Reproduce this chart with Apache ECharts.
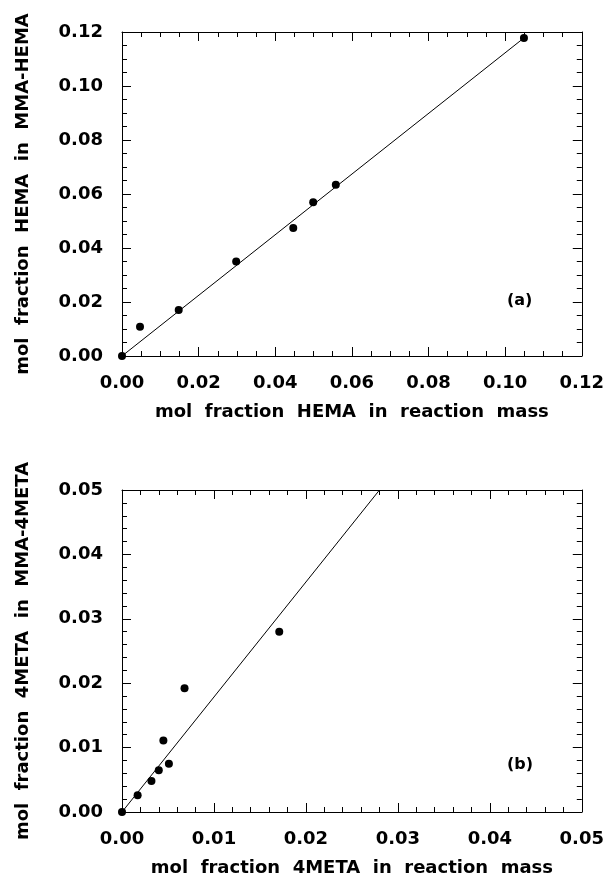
<!DOCTYPE html>
<html>
<head>
<meta charset="utf-8">
<script src="https://cdn.jsdelivr.net/npm/echarts@6/dist/echarts.min.js"></script>
<style>
  html, body { margin: 0; padding: 0; background: #fff; }
  #chart { width: 607px; height: 878px; }
</style>
</head>
<body>
<div id="chart"></div>
<script>
// panel (a): MMA-HEMA
var hemaPoints = [
    [0, 0], [0.0047, 0.0108], [0.0148, 0.0170], [0.0298, 0.0350],
    [0.0447, 0.0474], [0.0499, 0.0569], [0.0558, 0.0634], [0.1049, 0.1178]
];
var hemaFit = [[0, 0], [0.1049, 0.1178]];

// panel (b): MMA-4META
var metaPoints = [
    [0, 0], [0.0017, 0.0026], [0.0032, 0.0048], [0.0040, 0.0065],
    [0.0045, 0.0111], [0.0051, 0.0075], [0.0068, 0.0192], [0.0171, 0.0280]
];
var metaFit = [[0, 0], [0.0280, 0.0500]];

var hemaTicks = { max: 0.12, interval: 0.02, minorSplit: 4 };
var metaTicks = { max: 0.05, interval: 0.01, minorSplit: 5 };

var font = 'DejaVu Sans';

function axis(kind, grid, ticks, opts) {
    var a = {
        type: 'value',
        gridIndex: grid,
        min: 0,
        max: ticks.max,
        interval: ticks.interval,
        axisLine: { show: true, onZero: false, lineStyle: { color: '#000', width: 1 } },
        axisTick: { show: true, inside: true, length: 9, lineStyle: { color: '#000', width: 1 } },
        minorTick: { show: true, splitNumber: ticks.minorSplit, length: 5, lineStyle: { color: '#000', width: 1 } },
        splitLine: { show: false },
        axisLabel: {
            show: !opts.mirror,
            color: '#000',
            fontFamily: font,
            fontWeight: 'bold',
            fontSize: 18,
            margin: kind === 'x' ? 18 : 19,
            formatter: function (v) { return v.toFixed(2); }
        }
    };
    if (opts.position) a.position = opts.position;
    if (opts.name) {
        a.name = opts.name;
        a.nameLocation = 'middle';
        a.nameGap = kind === 'x' ? 47 : 90;
        a.nameTextStyle = { color: '#000', fontFamily: font, fontWeight: 'bold', fontSize: 18 };
    }
    return a;
}

var myChart = echarts.init(document.getElementById('chart'));
var option = {
    backgroundColor: '#fff',
    animation: false,
    grid: [
        { left: 122, top: 32, width: 461, height: 324 },
        { left: 122, top: 490, width: 461, height: 324 }
    ],
    xAxis: [
        axis('x', 0, hemaTicks, { name: 'mol  fraction  HEMA  in  reaction  mass' }),
        axis('x', 0, hemaTicks, { mirror: true, position: 'top' }),
        axis('x', 1, metaTicks, { name: 'mol  fraction  4META  in  reaction  mass' }),
        axis('x', 1, metaTicks, { mirror: true, position: 'top' })
    ],
    yAxis: [
        axis('y', 0, hemaTicks, { name: 'mol  fraction  HEMA  in  MMA-HEMA' }),
        axis('y', 0, hemaTicks, { mirror: true, position: 'right' }),
        axis('y', 1, metaTicks, { name: 'mol  fraction  4META  in  MMA-4META' }),
        axis('y', 1, metaTicks, { mirror: true, position: 'right' })
    ],
    graphic: [
        { type: 'text', left: 507, top: 293, style: { text: '(a)', fill: '#000', font: 'bold 16px "DejaVu Sans"' } },
        { type: 'text', left: 507, top: 757, style: { text: '(b)', fill: '#000', font: 'bold 16px "DejaVu Sans"' } }
    ],
    series: [
        {
            type: 'line', xAxisIndex: 0, yAxisIndex: 0, data: hemaFit,
            showSymbol: false, lineStyle: { color: '#000', width: 1 }, z: 2
        },
        {
            type: 'scatter', xAxisIndex: 0, yAxisIndex: 0, data: hemaPoints,
            symbolSize: 8, itemStyle: { color: '#000', opacity: 1 }, z: 3
        },
        {
            type: 'line', xAxisIndex: 2, yAxisIndex: 2, data: metaFit,
            showSymbol: false, lineStyle: { color: '#000', width: 1 }, z: 2
        },
        {
            type: 'scatter', xAxisIndex: 2, yAxisIndex: 2, data: metaPoints,
            symbolSize: 8, itemStyle: { color: '#000', opacity: 1 }, z: 3
        }
    ]
};
myChart.setOption(option);
</script>
</body>
</html>
